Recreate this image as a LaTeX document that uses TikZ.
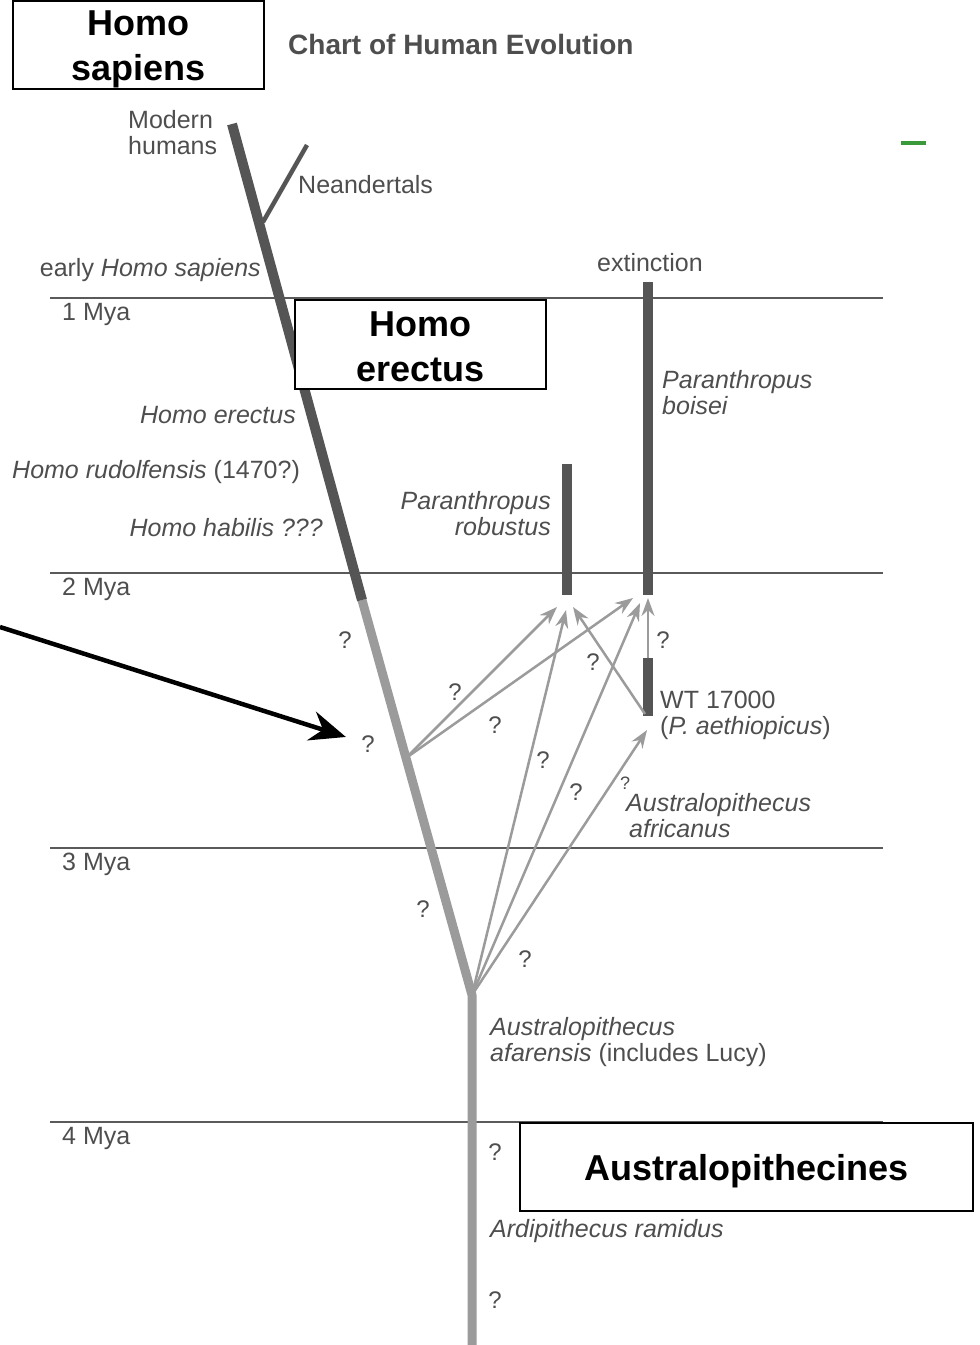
\documentclass[tikz,border=0pt]{standalone}
\usepackage{fontspec}
\setmainfont{Liberation Sans}
\usetikzlibrary{shapes,arrows,arrows.meta,positioning,calc}
\definecolor{bardark}{RGB}{85,85,85}
\definecolor{barlight}{RGB}{155,155,155}
\definecolor{txtgray}{RGB}{78,78,78}
\definecolor{rulegray}{RGB}{90,90,90}
\definecolor{markgreen}{RGB}{58,154,58}

\begin{document}
\begin{tikzpicture}[x=1pt,y=-1pt,
  lbl/.style={text=txtgray,inner sep=0pt,yshift=-2pt,font=\fontsize{25}{26}\selectfont},
  it/.style={lbl,font=\fontsize{25}{26}\selectfont\itshape},
  qm/.style={lbl,font=\fontsize{24}{26}\selectfont},
  tagbox/.style={draw,line width=2.5pt,fill=white,inner sep=0pt},
  tagtext/.style={align=center,inner sep=0pt,yshift=-4pt,font=\fontsize{36}{45}\selectfont\bfseries},
  timeline/.style={rulegray,line width=1.8pt},
  lineage/.style={bardark,line width=10pt},
  early/.style={barlight,line width=9pt,line join=round},
  link/.style={barlight,line width=2.5pt,-{Stealth[length=18pt,width=13pt,inset=6pt]}},
  pointer/.style={black,line width=4.5pt,shorten >=16pt,-{Stealth[length=36pt,width=30pt,inset=12pt]}}
]
\useasboundingbox (0,0) rectangle (980,1345);

% time scale
\foreach \y/\m in {298/1,573/2,848/3,1122/4} {
  \draw[timeline] (50,\y) -- (883,\y);
  \node[lbl,anchor=west] (mya\m) at (62,\y+14) {\m~Mya};
}

% main lineage
\coordinate (mh) at (232,124);
\coordinate (nsplit) at (263,222);
\coordinate (ntip) at (307,145);
\coordinate (hfade) at (362,600);
\coordinate (fork) at (406,758);
\coordinate (lucy) at (472,995);
\coordinate (root) at (472,1345);
\draw[early] (hfade) -- (lucy) -- (root);
\draw[lineage] (mh) -- (hfade);
\draw[bardark,line width=4.5pt] (nsplit) -- (ntip);

% Paranthropus bars
\coordinate (robT) at (567,464);
\coordinate (robB) at (567,595);
\coordinate (boiT) at (648,282);
\coordinate (boiB) at (648,595);
\coordinate (wtT) at (648,658);
\coordinate (wtB) at (648,716);
\draw[lineage] (robT) -- (robB);
\draw[lineage] (boiT) -- (boiB);
\draw[lineage] (wtT) -- (wtB);

% possible ancestries
\coordinate (rob1) at (557,607);
\coordinate (rob2) at (566,610);
\coordinate (rob3) at (573,607);
\coordinate (boi1) at (633,598);
\coordinate (boi2) at (640,603);
\coordinate (boi3) at (648,598);
\coordinate (wtin) at (647,730);
\coordinate (wtout) at (645,714);
\draw[link] (fork) -- (rob1);
\draw[link] (fork) -- (boi1);
\draw[link] (lucy) -- (rob2);
\draw[link] (lucy) -- (boi2);
\draw[link] (lucy) -- (wtin);
\draw[link] (wtout) -- (rob3);
\draw[link] (wtT) -- (boi3);

% question marks
\node[qm] (q1) at (345,638) {?};
\node[qm] (q2) at (368,742) {?};
\node[qm] (q3) at (455,690) {?};
\node[qm] (q4) at (495,723) {?};
\node[qm] (q5) at (543,758) {?};
\node[qm] (q6) at (576,790) {?};
\node[qm,font=\fontsize{18}{20}\selectfont] (q7) at (625,781) {?};
\node[qm] (q8) at (593,660) {?};
\node[qm] (q9) at (663,638) {?};
\node[qm] (q10) at (423,907) {?};
\node[qm] (q11) at (525,957) {?};
\node[qm] (q12) at (495,1150) {?};
\node[qm] (q13) at (495,1298) {?};

% labels
\node[text=txtgray,font=\fontsize{28}{30}\selectfont\bfseries,inner sep=0pt,anchor=west] (title) at (288,44) {Chart of Human Evolution};
\node[lbl,align=left,anchor=west] (modern) at (128,131) {Modern\\humans};
\node[lbl,anchor=west] (neander) at (298,183) {Neandertals};
\node[lbl,anchor=east] (earlyhs) at (261,268) {early \textit{Homo sapiens}};
\node[it,anchor=east] (herect) at (296,413) {Homo erectus};
\node[lbl,anchor=west] (hrud) at (12,470) {\textit{Homo rudolfensis} (1470?)};
\node[it,anchor=east] (hhab) at (323,526) {Homo habilis ???};
\node[lbl] (extinct) at (650,261) {extinction};
\node[it,align=left,anchor=west] (boisei) at (662,391) {Paranthropus\\boisei};
\node[it,align=right,anchor=east] (robust) at (551,512) {Paranthropus\\robustus};
\node[lbl,align=left,anchor=west] (wt) at (660,713) {WT 17000\\(\textit{P. aethiopicus})};
\node[it,align=left,anchor=west] (africanus) at (626,814) {Australopithecus\\\hspace*{3pt}africanus};
\node[lbl,align=left,anchor=west] (afar) at (490,1040) {\textit{Australopithecus}\\\textit{afarensis} (includes Lucy)};
\node[it,anchor=west] (ardi) at (490,1229) {Ardipithecus ramidus};

% tag boxes
\node[tagbox,minimum width=251pt,minimum height=88pt] (sapbox) at (138.5,45) {};
\node[tagtext] (saptext) at (sapbox) {Homo\\sapiens};
\node[tagbox,minimum width=251pt,minimum height=89pt] (erbox) at (420.5,344.5) {};
\node[tagtext,yshift=2pt] (ertext) at (erbox) {Homo\\erectus};
\node[tagbox,minimum width=453pt,minimum height=88pt] (ausbox) at (746.5,1167) {};
\node[tagtext] (austext) at (ausbox) {Australopithecines};

% pointer
\coordinate (offleft) at (0,627);
\draw[pointer] (offleft) -- (q2);

\draw[markgreen,line width=4pt] (901,143) -- (926,143);
\end{tikzpicture}
\end{document}
